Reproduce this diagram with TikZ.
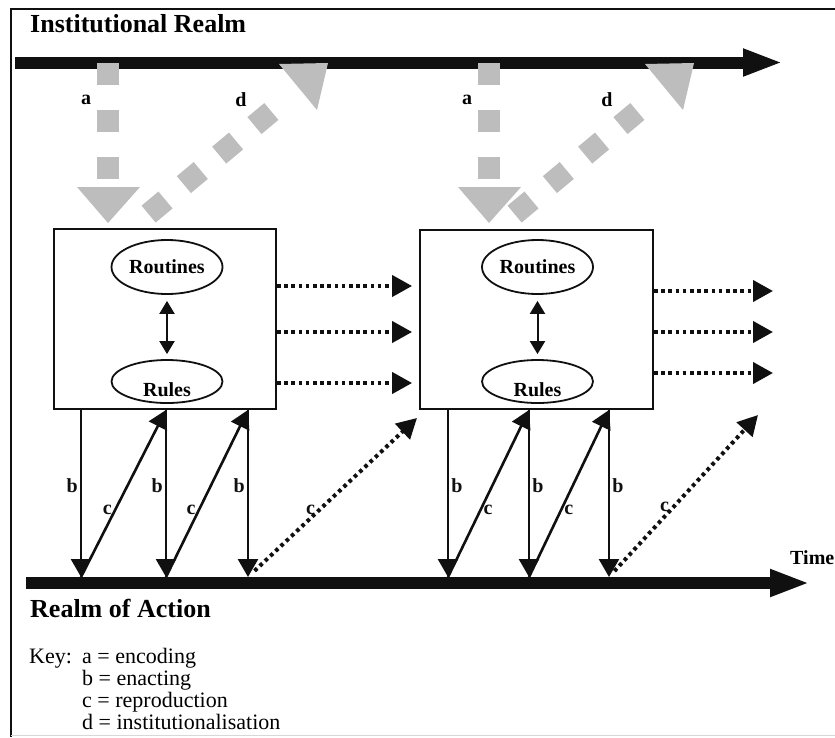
\documentclass[tikz,border=0pt]{standalone}
\usepackage{fontspec}
\setmainfont{Liberation Serif}
\usepackage{tikz}
\usetikzlibrary{positioning, calc, arrows.meta, shapes.geometric}
\definecolor{InkBlack}{HTML}{101010}
\definecolor{ShadeGray}{HTML}{BDBDBD}
\definecolor{FrameGray}{HTML}{D8D8D8}

\begin{document}
\begin{tikzpicture}[x=1pt, y=-1pt,
  realm/.style={font=\fontsize{26}{28}\selectfont\bfseries, anchor=base west, inner sep=0pt},
  realmbar/.style={InkBlack, line width=12pt, -{Triangle[length=40pt 0 1, width=25pt 0 1]}},
  stagebox/.style={draw=InkBlack, line width=1.8pt, inner sep=0pt},
  bubble/.style={ellipse, draw=InkBlack, line width=1.8pt, inner sep=0pt, minimum width=111pt,
    font=\fontsize{20}{22}\selectfont\bfseries},
  enact/.style={InkBlack, line width=2.6pt, -{Triangle[length=18pt 0 1, width=20pt 0 1]}},
  carry/.style={InkBlack, line width=4pt, dash pattern=on 3.6pt off 3.6pt,
    -{Triangle[length=20pt 0 1, width=21pt 0 1]}},
  encode/.style={ShadeGray, line width=22pt, dash pattern=on 22pt off 25pt},
  flowlbl/.style={font=\fontsize{20}{22}\selectfont\bfseries, inner sep=2pt},
  keytxt/.style={font=\fontsize{22}{23}\selectfont, anchor=base west, inner sep=0pt}]
  \useasboundingbox (0,0) rectangle (835,737);

  %% frame
  \draw[InkBlack, line width=1.6pt] (11,737) -- (11,9) -- (840,9);
  \draw[FrameGray, line width=1pt] (11,735) -- (840,735);

  %% the two realms
  \node[realm] (instTitle) at (30,32) {Institutional Realm};
  \coordinate (inst0) at (15,62.5);
  \coordinate (inst1) at (783,62.5);
  \draw[realmbar] (inst0) -- (inst1);

  \coordinate (act0) at (26,583);
  \coordinate (act1) at (810,583);
  \draw[realmbar] (act0) -- (act1);
  \node[realm] (actTitle) at (30,617) {Realm of Action};
  \node[flowlbl, anchor=base west, inner sep=0pt] (timeLbl) at (790,564) {Time};

  %% a (encoding) and d (institutionalisation), once per period
  \foreach \p/\ax/\dx in {1/0/0, 2/381/366}{
    \coordinate (encTop\p) at ({108+\ax},63);
    \coordinate (encBase\p) at ({108+\ax},187);
    \coordinate (encTip\p) at ({108+\ax},223);
    \draw[encode] (encTop\p) -- (encBase\p);
    \fill[ShadeGray] ($(encBase\p)+(-31,0)$) -- ($(encBase\p)+(32,0)$) -- (encTip\p) -- cycle;
    \node[flowlbl] (lblA\p) at ({86+\ax},100) {a};

    \coordinate (instTail\p) at ({148.6+\dx},214.1);
    \coordinate (instLast\p) at ({271.7+\dx},111.2);
    \draw[encode, dash pattern=on 22pt off 24pt] (instTail\p) -- (instLast\p);
    \fill[ShadeGray] ({279+\dx},64) -- ({328+\dx},63) -- ({317+\dx},110) -- cycle;
    \node[flowlbl] (lblD\p) at ({241+\dx},100) {d};
  }

  %% structures
  \node[stagebox, minimum width=222pt, minimum height=180pt] (stage1) at (165,319) {};
  \node[stagebox, minimum width=233pt, minimum height=179pt] (stage2) at (536.5,319.5) {};
  \foreach \p/\cx in {1/167, 2/537.5}{
    \node[bubble, minimum height=54pt] (rout\p) at (\cx,267) {Routines};
    \node[bubble, minimum height=43pt, text height=30pt, text depth=0pt] (rule\p) at (\cx,381.5) {Rules};
    \draw[InkBlack, line width=2pt, shorten <=6pt, shorten >=5pt,
      {Triangle[length=13pt 0 1, width=15pt 0 1]}-{Triangle[length=13pt 0 1, width=15pt 0 1]}]
      (rout\p) -- (rule\p);
  }

  %% carried forward
  \foreach \y in {286, 332, 383}
    \draw[carry, shorten >=7pt] (stage1.east |- 0,\y) -- (stage2.west |- 0,\y);
  \foreach \n/\y in {1/291, 2/332, 3/373}{
    \coordinate (next\n) at (773,\y);
    \draw[carry] (stage2.east |- next\n) -- (next\n);
  }

  %% b (enacting) and c (reproduction)
  \foreach \i/\x in {1/81, 2/166, 3/248, 4/448, 5/529, 6/609}{
    \coordinate (up\i) at (\x,410);
    \coordinate (dn\i) at (\x,577);
  }
  \foreach \i/\side in {1/left, 2/left, 3/left, 4/right, 5/right, 6/right}
    \draw[enact] (up\i) -- (dn\i) node[flowlbl, pos=0.45, \side] (lblB\i) {b};
  \foreach \i/\j/\side in {1/2/left, 2/3/left, 4/5/right, 5/6/right}
    \draw[enact] (dn\i) -- (up\j) node[flowlbl, pos=0.4, \side] (lblC\i) {c};

  \coordinate (seed1) at (417,418);
  \coordinate (seed2) at (758,415);
  \draw[carry, shorten <=9pt] (dn3) -- (seed1) node[flowlbl, pos=0.42, left] (lblC3) {c};
  \draw[carry, shorten <=8pt] (dn6) -- (seed2) node[flowlbl, pos=0.43, left] (lblC6) {c};

  %% key
  \node[keytxt] (keyHead) at (29,663) {Key:};
  \foreach \n/\txt [count=\k from 0] in {a/encoding, b/enacting, c/reproduction, d/institutionalisation}
    \node[keytxt] (key\n) at (82,{663+22.2*\k}) {\n{} = \txt};
\end{tikzpicture}
\end{document}
